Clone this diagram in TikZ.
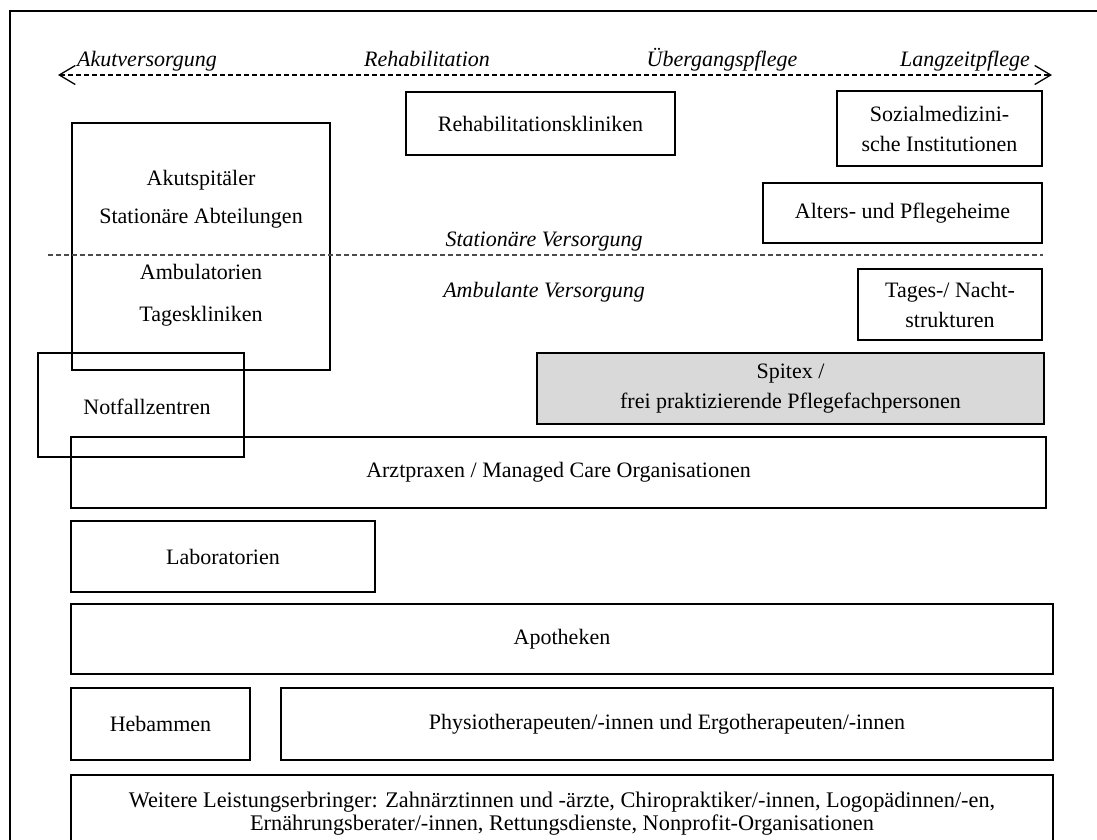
\documentclass[tikz,border=0pt]{standalone}
\usepackage{fontspec}
\setmainfont{Liberation Serif}
\usetikzlibrary{arrows.meta}
\begin{document}
\begin{tikzpicture}[x=1pt,y=-1pt,
  box/.style={draw=black,line width=1.8pt,inner sep=0pt,font=\fontsize{22}{30}\selectfont,align=center},
  txt/.style={inner sep=0pt,font=\fontsize{22}{30}\selectfont,align=center},
  lab/.style={inner sep=0pt,anchor=base,font=\fontsize{22}{24}\selectfont\itshape},
  mybarb/.tip={Straight Barb[length=16pt,width=19pt,line width=1.3pt]}]
\useasboundingbox (0,0) rectangle (1097,839);
\draw[line width=2pt] (10,900) -- (10,11) -- (1200,11);
% top axis
\coordinate (al) at (58,75);
\coordinate (ar) at (1052,75);
\draw[line width=1.2pt,dash pattern=on 5pt off 3pt,{mybarb}-{mybarb}] (al) -- (ar);
\node[lab] (l1) at (147,66) {Akutversorgung};
\node[lab] (l2) at (427,66) {Rehabilitation};
\node[lab] (l3) at (722,66) {Übergangspflege};
\node[lab] (l4) at (965,66) {Langzeitpflege};
% boxes
\node[box,minimum width=269pt,minimum height=63pt] (reha) at (540.5,123.5) {Rehabilitationskliniken};
\node[box,minimum width=205pt,minimum height=75pt] (soz) at (939.5,128.5) {Sozialmedizini-\\sche Institutionen};
\node[box,minimum width=258pt,minimum height=247pt] (akut) at (201,246.5) {};
\node[txt] (t1) at (201,180) {Akutspitäler};
\node[txt] (t2) at (201,218) {Stationäre Abteilungen};
\node[txt] (t3) at (201,272) {Ambulatorien};
\node[txt] (t4) at (201,316) {Tageskliniken};
\node[box,minimum width=279pt,minimum height=60pt] (alt) at (902.5,213) {Alters- und Pflegeheime};
% separator
\coordinate (sl) at (48,255);
\coordinate (sr) at (1043,255);
\draw[line width=1.2pt,draw=black!70,dash pattern=on 5pt off 3pt] (sl) -- (sr);
\node[lab] (st) at (544,246) {Stationäre Versorgung};
\node[lab] (am) at (544,297) {Ambulante Versorgung};
\node[box,minimum width=184pt,minimum height=71pt] (tag) at (950,304.5) {Tages-/ Nacht-\\strukturen};
\node[box,fill=black!15,minimum width=507pt,minimum height=71pt] (spi) at (790.5,388.5) {Spitex /\\frei praktizierende Pflegefachpersonen};
\node[box,minimum width=975pt,minimum height=71pt] (arzt) at (558.5,472.5) {Arztpraxen / Managed Care Organisationen};
\node[box,minimum width=206pt,minimum height=104pt] (not) at (141,405) {};
\node[txt] (nt) at (147,407) {Notfallzentren};
\node[box,minimum width=304pt,minimum height=71pt] (lab) at (223,556.5) {Laboratorien};
\node[box,minimum width=982pt,minimum height=70pt] (apo) at (562,639) {Apotheken};
\node[box,minimum width=179pt,minimum height=72pt] (heb) at (160.5,724) {Hebammen};
\node[box,minimum width=772pt,minimum height=72pt] (phy) at (667,724) {Physiotherapeuten/-innen und Ergotherapeuten/-innen};
\node[box,minimum width=982pt,minimum height=100pt] (wei) at (562,825) {};
\node[txt,font=\fontsize{22.3}{23}\selectfont] (wt) at (562,814) {Weitere Leistungserbringer: Zahnärztinnen und -ärzte, Chiropraktiker/-innen, Logopädinnen/-en,\\Ernährungsberater/-innen, Rettungsdienste, Nonprofit-Organisationen};
\end{tikzpicture}
\end{document}
